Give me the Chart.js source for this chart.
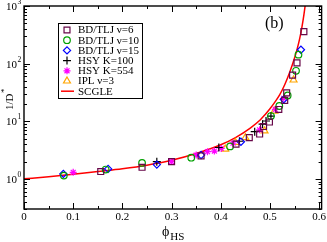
<!DOCTYPE html>
<html>
<head>
<meta charset="utf-8">
<script src="https://cdn.jsdelivr.net/npm/chart.js"></script>
<style>
  body { margin: 0; background: #fff; }
</style>
</head>
<body>
<canvas id="chart" width="327" height="242"></canvas>
<script>
// values: phi_HS and 1/D*
const phiNu6  = [0.156, 0.240, 0.300, 0.360, 0.431, 0.458, 0.479, 0.487, 0.499, 0.518, 0.530, 0.534, 0.546, 0.555, 0.569];
const invDNu6 = [1.34, 1.59, 1.99, 2.5, 4.0, 5.2, 6.0, 8.1, 9.7, 16, 23, 31, 63, 103, 360];

const phiNu10  = [0.081, 0.166, 0.240, 0.340, 0.419, 0.502, 0.519, 0.536, 0.553, 0.558];
const invDNu10 = [1.14, 1.45, 1.89, 2.33, 3.66, 12.3, 18.4, 28, 75, 143];

const phiNu15  = [0.080, 0.171, 0.270, 0.360, 0.441, 0.528, 0.563];
const invDNu15 = [1.22, 1.49, 1.77, 2.59, 4.4, 24, 174];

const phiK100  = [0.270, 0.396, 0.438, 0.469, 0.485, 0.492, 0.502];
const invDK100 = [1.99, 3.5, 4.5, 6.6, 8.9, 10.1, 12.3];

const phiK554  = [0.100, 0.300, 0.350, 0.373, 0.387, 0.401, 0.425, 0.479, 0.511, 0.528];
const invDK554 = [1.30, 2.0, 2.59, 2.96, 3.04, 3.38, 4.17, 7.1, 16.1, 25];

const phiIPL  = [0.409, 0.430, 0.450, 0.489, 0.509, 0.548];
const invDIPL = [3.29, 4.28, 5.2, 6.8, 15.0, 52];

const phiSCGLE  = [0, 0.05, 0.1, 0.15, 0.2, 0.25, 0.3, 0.35, 0.4, 0.43, 0.46, 0.48, 0.49, 0.5, 0.51, 0.52, 0.53, 0.54, 0.55, 0.555, 0.56, 0.565, 0.569, 0.572, 0.575];
const invDSCGLE = [1.0, 1.09, 1.2, 1.34, 1.5, 1.73, 2.1, 2.75, 3.9, 5.2, 7.6, 10.5, 13, 16.5, 21.5, 29, 43, 70, 125, 175, 260, 430, 700, 1100, 2000];

const xTicks = [0, 0.1, 0.2, 0.3, 0.4, 0.5, 0.6];
const xTickLabels = ["0", "0.1", "0.2", "0.3", "0.4", "0.5", "0.6"];
const yDecades = [1, 10, 100, 1000];
const yExponents = ["0", "1", "2", "3"];

function pts(xs, ys) {
  return xs.map(function(x, i) { return { x: x, y: ys[i] }; });
}

const serif = "'Liberation Serif', 'DejaVu Serif', serif";

function symbolSet(label, xs, ys, color, style, radius) {
  return {
    label: label,
    data: pts(xs, ys),
    showLine: false,
    pointStyle: style,
    pointRadius: radius,
    pointHoverRadius: radius,
    pointBorderWidth: 1.2,
    borderColor: color,
    backgroundColor: "rgba(0,0,0,0)",
  };
}

const datasets = [
  symbolSet("BD/TLJ \u03bd=6", phiNu6, invDNu6, "rgb(103,7,72)", "rect", 4.2),
  symbolSet("BD/TLJ \u03bd=10", phiNu10, invDNu10, "#00a000", "circle", 3.3),
  symbolSet("BD/TLJ \u03bd=15", phiNu15, invDNu15, "#0000ff", "rectRot", 3.6),
  symbolSet("HSY K=100", phiK100, invDK100, "#000000", "cross", 4),
  symbolSet("HSY K=554", phiK554, invDK554, "#ff00ff", "star", 3.5),
  symbolSet("IPL \u03bd=3", phiIPL, invDIPL, "#ffa500", "triangle", 4),
  {
    label: "SCGLE",
    data: pts(phiSCGLE, invDSCGLE),
    showLine: true,
    borderColor: "#ff0000",
    backgroundColor: "#ff0000",
    borderWidth: 1.5,
    pointRadius: 0,
    cubicInterpolationMode: "monotone",
  },
];

// frame, inward ticks, labels, titles and legend (xmgrace look)
const decorations = {
  id: "decorations",
  afterDatasetsDraw(chart) {
    const ctx = chart.ctx;
    const a = chart.chartArea;
    const xs = chart.scales.x;
    const ys = chart.scales.y;
    ctx.save();
    ctx.strokeStyle = "#000";
    ctx.fillStyle = "#000";
    ctx.lineWidth = 1.4;
    ctx.strokeRect(a.left, a.top, a.right - a.left, a.bottom - a.top);

    ctx.lineWidth = 1;
    function xTick(v, len) {
      const px = Math.round(xs.getPixelForValue(v)) + 0.5;
      ctx.beginPath();
      ctx.moveTo(px, a.bottom); ctx.lineTo(px, a.bottom - len);
      ctx.moveTo(px, a.top); ctx.lineTo(px, a.top + len);
      ctx.stroke();
    }
    function yTick(v, len) {
      const py = Math.round(ys.getPixelForValue(v)) + 0.5;
      ctx.beginPath();
      ctx.moveTo(a.left, py); ctx.lineTo(a.left + len, py);
      ctx.moveTo(a.right, py); ctx.lineTo(a.right - len, py);
      ctx.stroke();
    }
    xTicks.forEach(function(v) { xTick(v, 6); });
    for (let i = 0; i < xTicks.length - 1; i++) xTick((xTicks[i] + xTicks[i + 1]) / 2, 3);
    yDecades.forEach(function(v) { yTick(v, 6); });
    [0.1, 1, 10, 100].forEach(function(d) {
      for (let m = 2; m <= 9; m++) {
        const v = d * m;
        if (v > ys.min && v < ys.max) yTick(v, 3);
      }
    });

    // tick labels
    ctx.font = "11px " + serif;
    ctx.textAlign = "center";
    ctx.textBaseline = "top";
    xTicks.forEach(function(v, i) {
      ctx.fillText(xTickLabels[i], xs.getPixelForValue(v), a.bottom + 3);
    });
    yDecades.forEach(function(v, i) {
      const py = ys.getPixelForValue(v);
      ctx.font = "11px " + serif;
      ctx.textAlign = "right";
      ctx.textBaseline = "middle";
      ctx.fillText("10", a.left - 7, py + 1);
      ctx.font = "7.5px " + serif;
      ctx.textAlign = "left";
      ctx.fillText(yExponents[i], a.left - 6.5, py - 4);
    });

    // axis titles
    ctx.textAlign = "left";
    ctx.textBaseline = "alphabetic";
    ctx.font = "14px " + serif;
    const phiW = ctx.measureText("\u03d5").width;
    ctx.fillText("\u03d5", 162, 236);
    ctx.font = "11px " + serif;
    ctx.fillText("HS", 162 + phiW + 1, 240);

    ctx.save();
    ctx.translate(13, 110);
    ctx.rotate(-Math.PI / 2);
    ctx.font = "11px " + serif;
    const tw = ctx.measureText("1/D").width;
    ctx.fillText("1/D", 0, 0);
    ctx.font = "9px " + serif;
    ctx.fillText("*", tw + 0.5, -6);
    ctx.restore();

    ctx.font = "16px " + serif;
    ctx.fillText("(b)", 265, 28);

    // legend
    const bx = 58.5, by = 23.5, bw = 84, bh = 75;
    ctx.fillStyle = "#fff";
    ctx.fillRect(bx, by, bw, bh);
    ctx.strokeStyle = "#000";
    ctx.lineWidth = 1;
    ctx.strokeRect(bx, by, bw, bh);
    chart.data.datasets.forEach(function(ds, i) {
      const cy = 30 + i * 10.2;
      if (ds.showLine) {
        ctx.strokeStyle = ds.borderColor;
        ctx.lineWidth = 1.5;
        ctx.beginPath();
        ctx.moveTo(61, cy); ctx.lineTo(74, cy);
        ctx.stroke();
      } else {
        ctx.strokeStyle = ds.borderColor;
        ctx.fillStyle = "rgba(0,0,0,0)";
        ctx.lineWidth = ds.pointBorderWidth;
        Chart.helpers.drawPoint(ctx, {
          pointStyle: ds.pointStyle,
          radius: ds.pointRadius,
          rotation: 0,
          borderWidth: ds.pointBorderWidth,
        }, 67, cy);
      }
      ctx.fillStyle = "#000";
      ctx.font = "11px " + serif;
      ctx.textBaseline = "middle";
      ctx.textAlign = "left";
      ctx.fillText(ds.label, 78, cy + 0.5);
    });
    ctx.restore();
  },
};

new Chart(document.getElementById("chart"), {
  type: "scatter",
  data: { datasets: datasets },
  options: {
    responsive: false,
    animation: false,
    layout: { padding: { left: 24, right: 5, top: 6, bottom: 33 } },
    plugins: { legend: { display: false }, tooltip: { enabled: false } },
    scales: {
      x: { type: "linear", min: 0, max: 0.605, display: false },
      y: { type: "logarithmic", min: 0.3, max: 1000, display: false },
    },
  },
  plugins: [decorations],
});
</script>
</body>
</html>
